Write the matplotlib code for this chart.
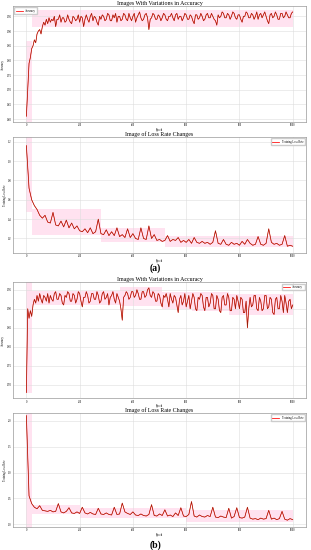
import matplotlib
matplotlib.use('Agg')
import matplotlib.pyplot as plt
import numpy as np
import pandas as pd

# accuracy sampled every 5 epochs, loss every 10 epochs
epochs5 = list(range(0, 1001, 5))
epochs10 = list(range(0, 1001, 10))

acc_a = [0.61, 0.70, 0.79, 0.81, 0.84, 0.85, 0.87, 0.86, 0.89, 0.90, 0.905, 0.89, 0.915, 0.93, 0.92, 0.94, 0.925, 0.945, 0.93, 0.94,
         0.935, 0.95, 0.915, 0.94, 0.94, 0.955, 0.93, 0.945, 0.945, 0.93, 0.935, 0.955, 0.94, 0.93, 0.925, 0.95, 0.945, 0.935, 0.94, 0.955,
         0.93, 0.95, 0.945, 0.915, 0.94, 0.955, 0.94, 0.93, 0.95, 0.96, 0.935, 0.95, 0.945, 0.93, 0.92, 0.95, 0.94, 0.955, 0.95, 0.935,
         0.94, 0.96, 0.955, 0.935, 0.935, 0.955, 0.945, 0.96, 0.93, 0.95, 0.95, 0.935, 0.94, 0.96, 0.955, 0.94, 0.935, 0.96, 0.945, 0.935,
         0.95, 0.96, 0.93, 0.945, 0.955, 0.965, 0.945, 0.935, 0.94, 0.955, 0.96, 0.945, 0.905, 0.94, 0.945, 0.96, 0.955, 0.94, 0.94, 0.955,
         0.95, 0.935, 0.945, 0.96, 0.955, 0.94, 0.935, 0.95, 0.95, 0.96, 0.945, 0.935, 0.955, 0.96, 0.94, 0.95, 0.95, 0.935, 0.945, 0.96,
         0.955, 0.94, 0.94, 0.955, 0.95, 0.935, 0.925, 0.955, 0.955, 0.94, 0.945, 0.96, 0.95, 0.935, 0.94, 0.955, 0.96, 0.945, 0.945, 0.96,
         0.95, 0.94, 0.935, 0.92, 0.955, 0.945, 0.95, 0.965, 0.96, 0.945, 0.945, 0.96, 0.955, 0.94, 0.95, 0.965, 0.96, 0.945, 0.94, 0.955,
         0.955, 0.94, 0.93, 0.95, 0.95, 0.965, 0.96, 0.945, 0.945, 0.96, 0.955, 0.94, 0.95, 0.965, 0.94, 0.955, 0.96, 0.945, 0.955, 0.965,
         0.95, 0.935, 0.925, 0.955, 0.96, 0.945, 0.95, 0.965, 0.955, 0.94, 0.94, 0.96, 0.96, 0.945, 0.95, 0.965, 0.955, 0.945, 0.945, 0.96,
         0.965]

loss_a = [1.16, 0.72, 0.60, 0.54, 0.50, 0.44, 0.41, 0.44, 0.37, 0.36,
          0.47, 0.34, 0.33, 0.38, 0.32, 0.39, 0.31, 0.36, 0.30, 0.33,
          0.28, 0.27, 0.30, 0.26, 0.31, 0.25, 0.27, 0.40, 0.25, 0.24,
          0.29, 0.23, 0.27, 0.23, 0.31, 0.22, 0.24, 0.21, 0.30, 0.21,
          0.25, 0.20, 0.19, 0.31, 0.20, 0.19, 0.33, 0.20, 0.24, 0.18,
          0.19, 0.17, 0.18, 0.23, 0.17, 0.19, 0.18, 0.21, 0.16, 0.18,
          0.16, 0.19, 0.15, 0.21, 0.16, 0.15, 0.17, 0.15, 0.16, 0.14,
          0.16, 0.28, 0.15, 0.14, 0.19, 0.14, 0.13, 0.16, 0.14, 0.15,
          0.13, 0.17, 0.14, 0.19, 0.15, 0.13, 0.14, 0.22, 0.14, 0.13,
          0.15, 0.30, 0.16, 0.14, 0.15, 0.13, 0.14, 0.23, 0.12, 0.13,
          0.12]

acc_b = [0.68, 0.90, 0.875, 0.895, 0.88, 0.91, 0.925, 0.915, 0.935, 0.92, 0.94, 0.925, 0.915, 0.935, 0.93, 0.92, 0.94, 0.915, 0.935, 0.925,
         0.92, 0.94, 0.945, 0.925, 0.925, 0.94, 0.935, 0.915, 0.91, 0.935, 0.93, 0.945, 0.94, 0.92, 0.92, 0.94, 0.935, 0.915, 0.925, 0.945,
         0.94, 0.92, 0.905, 0.93, 0.93, 0.945, 0.935, 0.915, 0.92, 0.94, 0.94, 0.925, 0.925, 0.945, 0.935, 0.915, 0.92, 0.94, 0.945, 0.925,
         0.93, 0.94, 0.91, 0.93, 0.935, 0.945, 0.925, 0.915, 0.94, 0.93, 0.92, 0.90, 0.87, 0.93, 0.935, 0.945, 0.94, 0.925, 0.93, 0.945,
         0.945, 0.93, 0.935, 0.95, 0.94, 0.925, 0.925, 0.945, 0.945, 0.93, 0.935, 0.95, 0.955, 0.935, 0.93, 0.945, 0.94, 0.92, 0.92, 0.94,
         0.935, 0.915, 0.905, 0.935, 0.93, 0.94, 0.925, 0.905, 0.94, 0.925, 0.915, 0.935, 0.93, 0.91, 0.89, 0.925, 0.935, 0.91, 0.92, 0.94,
         0.905, 0.92, 0.935, 0.90, 0.92, 0.94, 0.93, 0.90, 0.895, 0.93, 0.925, 0.94, 0.935, 0.905, 0.895, 0.93, 0.93, 0.905, 0.915, 0.94,
         0.935, 0.90, 0.90, 0.935, 0.925, 0.895, 0.89, 0.93, 0.935, 0.91, 0.91, 0.94, 0.93, 0.895, 0.895, 0.93, 0.925, 0.90, 0.935, 0.92,
         0.90, 0.93, 0.925, 0.89, 0.89, 0.92, 0.85, 0.90, 0.93, 0.905, 0.91, 0.935, 0.935, 0.90, 0.895, 0.93, 0.92, 0.895, 0.90, 0.935,
         0.935, 0.90, 0.905, 0.93, 0.925, 0.89, 0.885, 0.925, 0.93, 0.90, 0.90, 0.935, 0.92, 0.89, 0.935, 0.915, 0.89, 0.92, 0.925, 0.90,
         0.91]

loss_b = [2.10, 0.55, 0.40, 0.33, 0.30, 0.36, 0.27, 0.26, 0.25, 0.27,
          0.24, 0.25, 0.40, 0.24, 0.22, 0.25, 0.32, 0.22, 0.21, 0.24,
          0.21, 0.33, 0.22, 0.20, 0.23, 0.20, 0.19, 0.31, 0.20, 0.19,
          0.22, 0.19, 0.18, 0.33, 0.19, 0.20, 0.41, 0.24, 0.21, 0.19,
          0.24, 0.18, 0.17, 0.20, 0.17, 0.16, 0.19, 0.38, 0.17, 0.16,
          0.20, 0.17, 0.28, 0.16, 0.18, 0.15, 0.22, 0.17, 0.32, 0.16,
          0.15, 0.19, 0.44, 0.16, 0.14, 0.18, 0.15, 0.14, 0.17, 0.15,
          0.33, 0.14, 0.13, 0.16, 0.14, 0.13, 0.31, 0.12, 0.15, 0.32,
          0.13, 0.12, 0.14, 0.33, 0.12, 0.10, 0.11, 0.09, 0.12, 0.10,
          0.11, 0.27, 0.10, 0.12, 0.09, 0.11, 0.25, 0.10, 0.08, 0.11,
          0.09]

acc_a_ticks = [0.60, 0.65, 0.70, 0.75, 0.80, 0.85, 0.90, 0.95]
loss_a_ticks = [0.2, 0.4, 0.6, 0.8, 1.0, 1.2]
acc_b_ticks = [0.70, 0.75, 0.80, 0.85, 0.90, 0.95]
loss_b_ticks = [0.0, 0.5, 1.0, 1.5, 2.0]

# epoch ranges over which the shaded band is computed
acc_a_blocks = [0, 20, 1001]
loss_a_blocks = [0, 20, 280, 520, 1001]
acc_b_blocks = [0, 20, 350, 510, 620, 760, 1001]
loss_b_blocks = [0, 20, 200, 600, 1001]

plt.rcParams['font.family'] = ['Liberation Serif', 'DejaVu Serif']


def draw(ax, x, y, blocks, yticks, ylabel, title, legend, loc, ylim, tpad=0.8):
    s = pd.Series(y, index=x)
    blk = pd.cut(s.index, blocks, right=False, labels=False)
    grp = s.groupby(blk)
    mean = grp.transform('mean').values
    std = grp.transform('std').values
    ax.fill_between(x, mean - 1.5 * std, mean + 1.5 * std, step='post',
                    color='#ff9fd0', alpha=0.3, lw=0)
    ax.plot(x, y, color='red', lw=0.55, label=legend)
    ax.plot(x, y, color='#4a3a10', lw=0.3, alpha=0.75)
    ax.set_title(title, fontsize=4.2, pad=tpad)
    ax.set_xlabel('Epoch', fontsize=2, labelpad=0.3)
    ax.set_ylabel(ylabel, fontsize=2, labelpad=1)
    ax.set_xticks([0, 200, 400, 600, 800, 1000])
    ax.set_yticks(yticks)
    ax.set_ylim(*ylim)
    ax.set_xlim(-50, 1050)
    ax.tick_params(labelsize=2, length=0, pad=1)
    ax.grid(True, color='#dddddd', lw=0.4)
    for sp in ax.spines.values():
        sp.set_color('#999999')
        sp.set_linewidth(0.5)
    ax.legend(loc=loc, fontsize=2, handlelength=2.5, frameon=True,
              borderpad=0.5, framealpha=1, edgecolor='#cccccc')


fig = plt.figure(figsize=(3.11, 5.5), dpi=100)
ax1 = fig.add_axes([0.042, 0.778, 0.942, 0.211])
ax2 = fig.add_axes([0.042, 0.540, 0.942, 0.211])
ax3 = fig.add_axes([0.042, 0.276, 0.942, 0.211])
ax4 = fig.add_axes([0.042, 0.042, 0.942, 0.207])

draw(ax1, epochs5, acc_a, acc_a_blocks, acc_a_ticks, 'Accuracy',
     'Images With Variations in Accuracy', 'Accuracy', 'upper left', (0.59, 0.985))
draw(ax2, epochs10, loss_a, loss_a_blocks, loss_a_ticks, 'Training Loss Rate',
     'Image of Loss Rate Changes', 'Training Loss Rate', 'upper right', (0.05, 1.25))
draw(ax3, epochs5, acc_b, acc_b_blocks, acc_b_ticks, 'Accuracy',
     'Images With Variations in Accuracy', 'Accuracy', 'upper right', (0.665, 0.97))
draw(ax4, epochs10, loss_b, loss_b_blocks, loss_b_ticks, 'Training Loss Rate',
     'Image of Loss Rate Changes', 'Training Loss Rate', 'upper right', (-0.05, 2.15), tpad=0.1)

fig.text(0.5, 1 - 268 / 550, '(a)', ha='center', va='center', fontsize=7, fontweight='bold')
fig.text(0.5, 1 - 545 / 550, '(b)', ha='center', va='center', fontsize=7, fontweight='bold')

plt.savefig('out.png', dpi=100)
